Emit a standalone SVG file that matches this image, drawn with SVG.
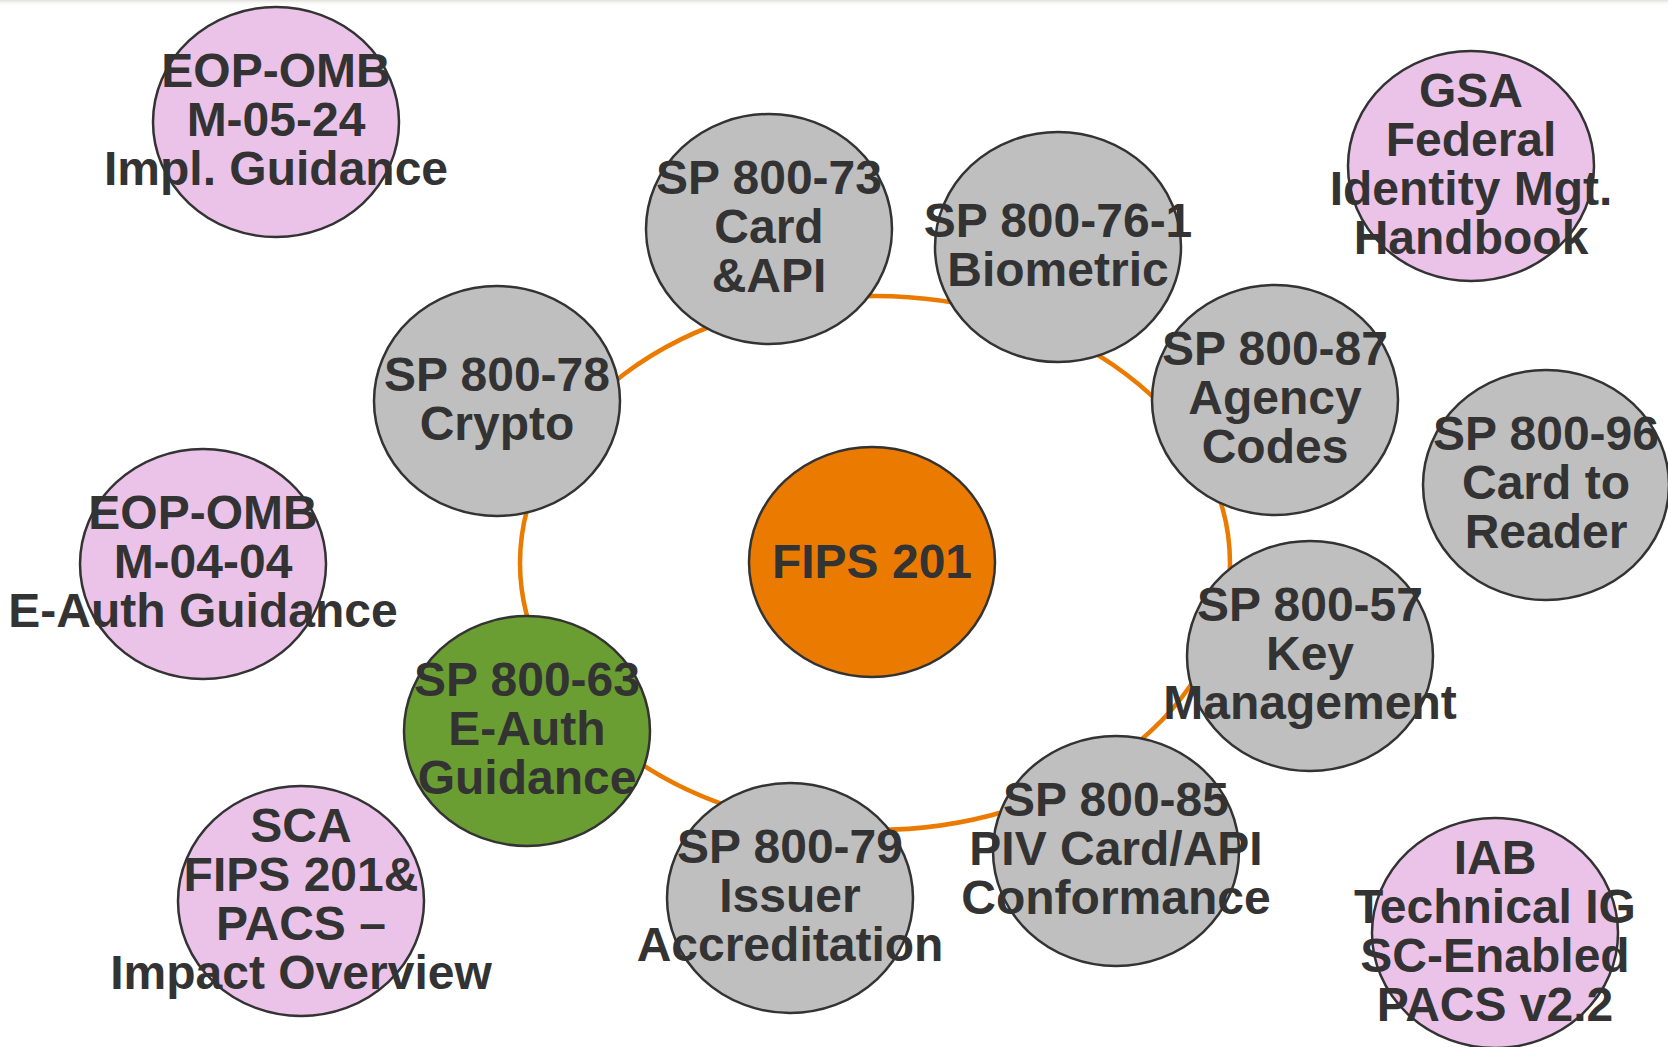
<svg xmlns="http://www.w3.org/2000/svg" width="1668" height="1047" viewBox="0 0 1668 1047">
<defs>
<linearGradient id="topband" x1="0" y1="0" x2="0" y2="1">
<stop offset="0" stop-color="#d9ddd6" stop-opacity="0.9"/>
<stop offset="1" stop-color="#ffffff" stop-opacity="0"/>
</linearGradient>
<style>
.n{stroke:#333333;stroke-width:2.5}
.pink{fill:#EBC3E8}
.grey{fill:#BFBFBF}
.green{fill:#6A9E32}
.orange{fill:#EB7B00}
text{font-family:"Liberation Sans",Arial,sans-serif;font-weight:bold;font-size:48px;fill:#333333;text-anchor:middle}
.ring{fill:none;stroke:#EB7B00;stroke-width:4.5}
</style>
</defs>
<rect x="0" y="0" width="1668" height="1047" fill="#ffffff"/>
<rect x="0" y="0" width="1668" height="6" fill="url(#topband)"/>
<g id="connectors">
<ellipse class="ring" cx="875" cy="563" rx="355" ry="267"/>
</g>
<g id="eop-omb-m-05-24">
<ellipse class="n pink" cx="276" cy="122" rx="123" ry="115"/>
<text x="276" y="87">EOP-OMB</text>
<text x="276" y="136">M-05-24</text>
<text x="276" y="185">Impl. Guidance</text>
</g>
<g id="sp-800-73">
<ellipse class="n grey" cx="769" cy="229" rx="123" ry="115"/>
<text x="769" y="194">SP 800-73</text>
<text x="769" y="243">Card</text>
<text x="769" y="292">&amp;API</text>
</g>
<g id="sp-800-76-1">
<ellipse class="n grey" cx="1058" cy="247" rx="123" ry="115"/>
<text x="1058" y="237">SP 800-76-1</text>
<text x="1058" y="286">Biometric</text>
</g>
<g id="gsa">
<ellipse class="n pink" cx="1471" cy="166" rx="123" ry="115"/>
<text x="1471" y="107">GSA</text>
<text x="1471" y="156">Federal</text>
<text x="1471" y="205">Identity Mgt.</text>
<text x="1471" y="254">Handbook</text>
</g>
<g id="sp-800-78">
<ellipse class="n grey" cx="497" cy="401" rx="123" ry="115"/>
<text x="497" y="391">SP 800-78</text>
<text x="497" y="440">Crypto</text>
</g>
<g id="sp-800-87">
<ellipse class="n grey" cx="1275" cy="400" rx="123" ry="115"/>
<text x="1275" y="365">SP 800-87</text>
<text x="1275" y="414">Agency</text>
<text x="1275" y="463">Codes</text>
</g>
<g id="sp-800-96">
<ellipse class="n grey" cx="1546" cy="485" rx="123" ry="115"/>
<text x="1546" y="450">SP 800-96</text>
<text x="1546" y="499">Card to</text>
<text x="1546" y="548">Reader</text>
</g>
<g id="eop-omb-m-04-04">
<ellipse class="n pink" cx="203" cy="564" rx="123" ry="115"/>
<text x="203" y="529">EOP-OMB</text>
<text x="203" y="578">M-04-04</text>
<text x="203" y="627">E-Auth Guidance</text>
</g>
<g id="fips-201">
<ellipse class="n orange" cx="872" cy="562" rx="123" ry="115"/>
<text x="872" y="578">FIPS 201</text>
</g>
<g id="sp-800-57">
<ellipse class="n grey" cx="1310" cy="656" rx="123" ry="115"/>
<text x="1310" y="621">SP 800-57</text>
<text x="1310" y="670">Key</text>
<text x="1310" y="719">Management</text>
</g>
<g id="sp-800-63">
<ellipse class="n green" cx="527" cy="731" rx="123" ry="115"/>
<text x="527" y="696">SP 800-63</text>
<text x="527" y="745">E-Auth</text>
<text x="527" y="794">Guidance</text>
</g>
<g id="sp-800-85">
<ellipse class="n grey" cx="1116" cy="851" rx="123" ry="115"/>
<text x="1116" y="816">SP 800-85</text>
<text x="1116" y="865">PIV Card/API</text>
<text x="1116" y="914">Conformance</text>
</g>
<g id="sp-800-79">
<ellipse class="n grey" cx="790" cy="898" rx="123" ry="115"/>
<text x="790" y="863">SP 800-79</text>
<text x="790" y="912">Issuer</text>
<text x="790" y="961">Accreditation</text>
</g>
<g id="sca">
<ellipse class="n pink" cx="301" cy="901" rx="123" ry="115"/>
<text x="301" y="842">SCA</text>
<text x="301" y="891">FIPS 201&amp;</text>
<text x="301" y="940">PACS –</text>
<text x="301" y="989">Impact Overview</text>
</g>
<g id="iab">
<ellipse class="n pink" cx="1495" cy="933" rx="123" ry="115"/>
<text x="1495" y="874">IAB</text>
<text x="1495" y="923">Technical IG</text>
<text x="1495" y="972">SC-Enabled</text>
<text x="1495" y="1021">PACS v2.2</text>
</g>
</svg>
